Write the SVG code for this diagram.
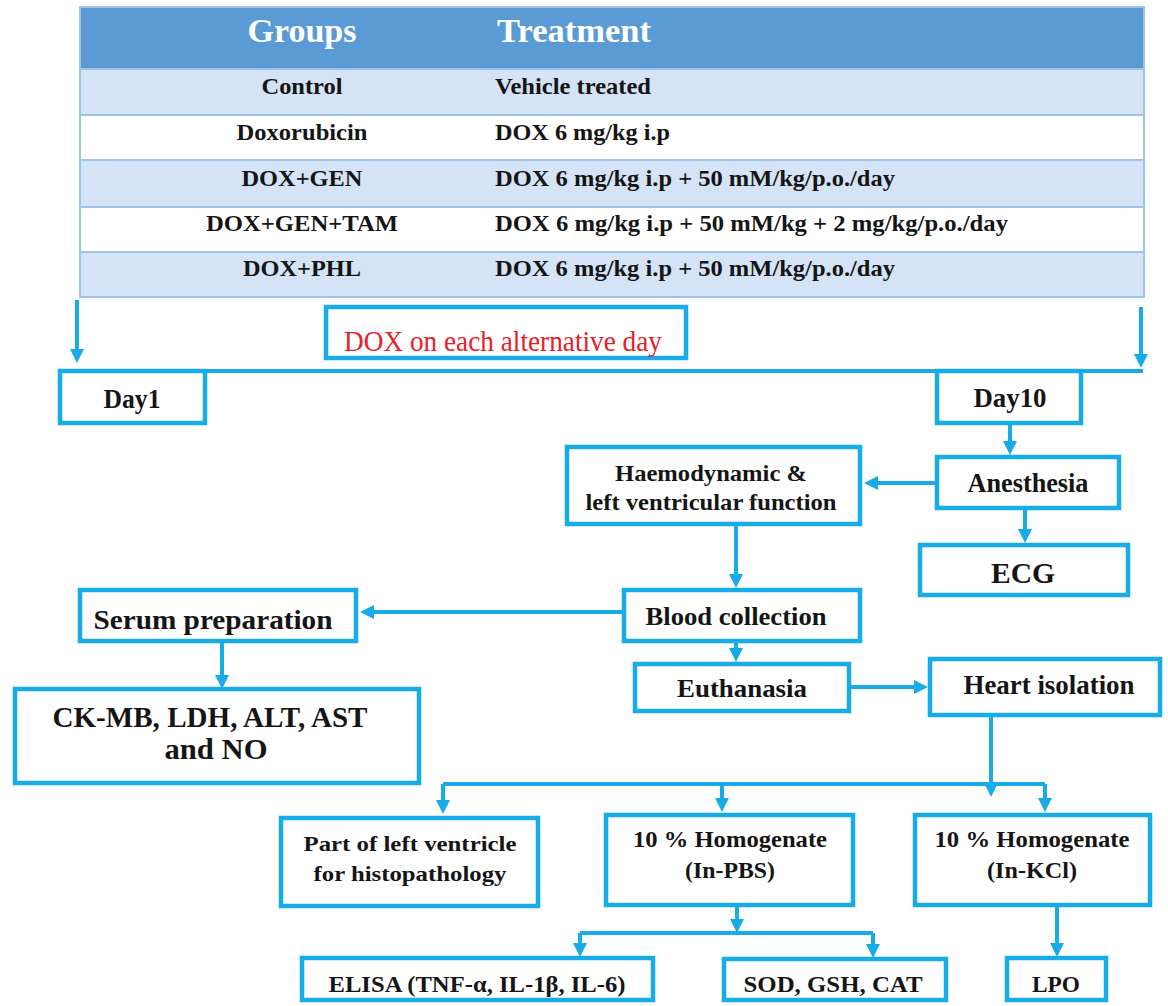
<svg xmlns="http://www.w3.org/2000/svg" width="1168" height="1006" viewBox="0 0 1168 1006">
<style>
.box{fill:#fff;stroke:#17ABE8;stroke-width:4.5}
.ln{fill:none;stroke:#17ABE8;stroke-width:4}
.arr{fill:none;stroke:#17ABE8;stroke-width:4;marker-end:url(#ah)}
.t{font-family:"Liberation Serif","Times New Roman",serif;font-weight:bold;fill:#151515;text-anchor:middle}
.tl{font-family:"Liberation Serif","Times New Roman",serif;font-weight:bold;fill:#151515}
.hd{font-family:"Liberation Serif","Times New Roman",serif;font-weight:bold;fill:#fff;font-size:33px}
.row{font-size:23px}
.lite{fill:#D4E3F5}
.sep{stroke:#9DC3E6;stroke-width:2}
</style>
<defs>
<marker id="ah" viewBox="0 0 14 14" markerWidth="14" markerHeight="14" refX="6" refY="7" orient="auto" markerUnits="userSpaceOnUse">
<path d="M0,0 L14,7 L0,14 z" fill="#17ABE8"/>
</marker>
</defs>
<rect width="1168" height="1006" fill="#fff"/>

<g id="table">
<rect x="80" y="7" width="1064" height="62" fill="#5B9BD5"/>
<rect x="80" y="69" width="1064" height="46" class="lite"/>
<rect x="80" y="115" width="1064" height="45" fill="#fff"/>
<rect x="80" y="160" width="1064" height="47" class="lite"/>
<rect x="80" y="207" width="1064" height="45" fill="#fff"/>
<rect x="80" y="252" width="1064" height="45" class="lite"/>
<line x1="80" y1="69" x2="1144" y2="69" class="sep"/>
<line x1="80" y1="115" x2="1144" y2="115" class="sep"/>
<line x1="80" y1="160" x2="1144" y2="160" class="sep"/>
<line x1="80" y1="207" x2="1144" y2="207" class="sep"/>
<line x1="80" y1="252" x2="1144" y2="252" class="sep"/>
<rect x="80" y="7" width="1064" height="290" fill="none" stroke="#9DC3E6" stroke-width="2"/>
<text x="302" y="42" class="hd" text-anchor="middle" textLength="109" lengthAdjust="spacingAndGlyphs">Groups</text>
<text x="497" y="42" class="hd" textLength="154" lengthAdjust="spacingAndGlyphs">Treatment</text>
<text x="302" y="94" class="t row" textLength="81" lengthAdjust="spacingAndGlyphs">Control</text>
<text x="495" y="94" class="tl row" textLength="156" lengthAdjust="spacingAndGlyphs">Vehicle treated</text>
<text x="302" y="140" class="t row" textLength="131" lengthAdjust="spacingAndGlyphs">Doxorubicin</text>
<text x="495" y="140" class="tl row" textLength="175" lengthAdjust="spacingAndGlyphs">DOX 6 mg/kg i.p</text>
<text x="302" y="186" class="t row" textLength="121" lengthAdjust="spacingAndGlyphs">DOX+GEN</text>
<text x="495" y="186" class="tl row" textLength="400" lengthAdjust="spacingAndGlyphs">DOX 6 mg/kg i.p + 50 mM/kg/p.o./day</text>
<text x="302" y="231" class="t row" textLength="192" lengthAdjust="spacingAndGlyphs">DOX+GEN+TAM</text>
<text x="495" y="231" class="tl row" textLength="513" lengthAdjust="spacingAndGlyphs">DOX 6 mg/kg i.p + 50 mM/kg + 2 mg/kg/p.o./day</text>
<text x="302" y="276" class="t row" textLength="118" lengthAdjust="spacingAndGlyphs">DOX+PHL</text>
<text x="495" y="276" class="tl row" textLength="400" lengthAdjust="spacingAndGlyphs">DOX 6 mg/kg i.p + 50 mM/kg/p.o./day</text>
</g>

<g id="connectors">
<path class="arr" d="M77 300 V355"/>
<path class="arr" d="M1141 307 V360"/>
<path class="ln" d="M60 371 H1143"/>
<path class="arr" d="M1010 423 V447"/>
<path class="arr" d="M937 483 H872"/>
<path class="arr" d="M1025 508 V535"/>
<path class="arr" d="M736 524 V580"/>
<path class="arr" d="M624 612 H368"/>
<path class="arr" d="M222 641 V681"/>
<path class="arr" d="M736 641 V654"/>
<path class="arr" d="M849 687 H920"/>
<path class="arr" d="M991 717 V789"/>
<path class="ln" d="M443 784 H1045"/>
<path class="arr" d="M443 784 V806"/>
<path class="arr" d="M722 784 V804"/>
<path class="arr" d="M1045 784 V804"/>
<path class="arr" d="M737 905 V925"/>
<path class="ln" d="M580 933 H873"/>
<path class="arr" d="M580 933 V949"/>
<path class="arr" d="M873 933 V950"/>
<path class="arr" d="M1057 905 V949"/>
</g>

<g id="dox-note">
<rect x="326" y="307" width="360" height="51" class="box"/>
<text x="344" y="351" font-family="'Liberation Serif','Times New Roman',serif" font-size="30" fill="#E8202A" textLength="318" lengthAdjust="spacingAndGlyphs">DOX on each alternative day</text>
</g>
<g id="day1">
<rect x="60" y="371" width="145" height="52" class="box"/>
<text x="132" y="408" class="t" font-size="28" textLength="57" lengthAdjust="spacingAndGlyphs">Day1</text>
</g>
<g id="day10">
<rect x="937" y="371" width="144" height="52" class="box"/>
<text x="1010" y="407" class="t" font-size="27" textLength="73" lengthAdjust="spacingAndGlyphs">Day10</text>
</g>
<g id="anesthesia">
<rect x="937" y="457" width="182" height="51" class="box"/>
<text x="1028" y="492" class="t" font-size="27" textLength="121" lengthAdjust="spacingAndGlyphs">Anesthesia</text>
</g>
<g id="ecg">
<rect x="920" y="545" width="208" height="50" class="box"/>
<text x="1023" y="583" class="t" font-size="30" textLength="64" lengthAdjust="spacingAndGlyphs">ECG</text>
</g>
<g id="haemodynamic">
<rect x="567" y="447" width="293" height="77" class="box"/>
<text x="711" y="481" class="t" font-size="24" textLength="192" lengthAdjust="spacingAndGlyphs">Haemodynamic &amp;</text>
<text x="711" y="510" class="t" font-size="24" textLength="251" lengthAdjust="spacingAndGlyphs">left ventricular function</text>
</g>
<g id="blood-collection">
<rect x="624" y="590" width="236" height="51" class="box"/>
<text x="736" y="625" class="t" font-size="26" textLength="181" lengthAdjust="spacingAndGlyphs">Blood collection</text>
</g>
<g id="euthanasia">
<rect x="635" y="664" width="214" height="47" class="box"/>
<text x="742" y="697" class="t" font-size="26" textLength="130" lengthAdjust="spacingAndGlyphs">Euthanasia</text>
</g>
<g id="heart-isolation">
<rect x="930" y="659" width="230" height="56" class="box"/>
<text x="1049" y="694" class="t" font-size="27" textLength="171" lengthAdjust="spacingAndGlyphs">Heart isolation</text>
</g>
<g id="serum-preparation">
<rect x="80" y="590" width="276" height="51" class="box"/>
<text x="213" y="629" class="t" font-size="27" textLength="239" lengthAdjust="spacingAndGlyphs">Serum preparation</text>
</g>
<g id="serum-markers">
<rect x="15" y="689" width="404" height="94" class="box"/>
<text x="210" y="727" class="t" font-size="30" textLength="315" lengthAdjust="spacingAndGlyphs">CK-MB, LDH, ALT, AST</text>
<text x="216" y="759" class="t" font-size="30" textLength="103" lengthAdjust="spacingAndGlyphs">and NO</text>
</g>
<g id="histopathology">
<rect x="281" y="818" width="257" height="88" class="box"/>
<text x="410" y="851" class="t" font-size="22" textLength="213" lengthAdjust="spacingAndGlyphs">Part of left ventricle</text>
<text x="410" y="881" class="t" font-size="22" textLength="193" lengthAdjust="spacingAndGlyphs">for histopathology</text>
</g>
<g id="homogenate-pbs">
<rect x="606" y="815" width="247" height="90" class="box"/>
<text x="730" y="847" class="t" font-size="23" textLength="194" lengthAdjust="spacingAndGlyphs">10 % Homogenate</text>
<text x="730" y="878" class="t" font-size="23" textLength="90" lengthAdjust="spacingAndGlyphs">(In-PBS)</text>
</g>
<g id="homogenate-kcl">
<rect x="915" y="815" width="235" height="90" class="box"/>
<text x="1032" y="847" class="t" font-size="23" textLength="195" lengthAdjust="spacingAndGlyphs">10 % Homogenate</text>
<text x="1032" y="878" class="t" font-size="23" textLength="90" lengthAdjust="spacingAndGlyphs">(In-KCl)</text>
</g>
<g id="elisa">
<rect x="302" y="958" width="351" height="42" class="box"/>
<text x="477" y="992" class="t" font-size="23" textLength="297" lengthAdjust="spacingAndGlyphs">ELISA (TNF-α, IL-1β, IL-6)</text>
</g>
<g id="antioxidants">
<rect x="724" y="959" width="222" height="41" class="box"/>
<text x="833" y="992" class="t" font-size="23" textLength="179" lengthAdjust="spacingAndGlyphs">SOD, GSH, CAT</text>
</g>
<g id="lpo">
<rect x="1007" y="958" width="99" height="42" class="box"/>
<text x="1056" y="992" class="t" font-size="23" textLength="48" lengthAdjust="spacingAndGlyphs">LPO</text>
</g>
</svg>
